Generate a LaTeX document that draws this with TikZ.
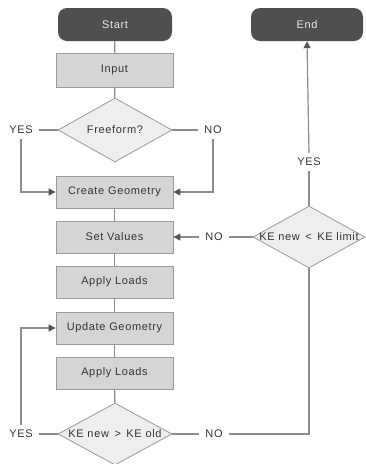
\documentclass[tikz,border=0pt]{standalone}
\usepackage{fontspec}
\setmainfont{Liberation Sans}[LetterSpace=6]
\usetikzlibrary{shapes.geometric,arrows.meta}
\definecolor{darkbox}{HTML}{4F4F4F}
\definecolor{boxfill}{HTML}{D5D5D5}
\definecolor{boxline}{HTML}{9A9A9A}
\definecolor{diafill}{HTML}{EEEEEE}
\definecolor{wire}{HTML}{8C8C8C}
\definecolor{tipcol}{HTML}{555555}
\definecolor{txt}{HTML}{333333}
\begin{document}
\begin{tikzpicture}[x=1pt,y=-1pt,
  font=\fontsize{11}{13}\selectfont,
  term/.style={rectangle,rounded corners=9pt,fill=darkbox,text=white!92!black,minimum width=114pt,minimum height=33pt,inner sep=0pt},
  procbox/.style={rectangle,fill=boxfill,draw=boxline,line width=0.8pt,text=txt,minimum width=117pt,minimum height=32pt,inner sep=0pt},
  decide/.style={diamond,fill=diafill,draw=boxline,line width=0.8pt,text=txt,minimum width=114pt,minimum height=63pt,inner sep=0pt},
  lbl/.style={text=txt,inner xsep=6pt,inner ysep=5pt},
  wireline/.style={draw=wire,line width=1.2pt},
  arr/.style={wireline,-{Triangle[length=7pt,width=7pt,color=tipcol]}}
]
\useasboundingbox (0,0) rectangle (366,464);
\node[term] (start) at (115,24.5) {Start};
\node[term,minimum width=112pt] (end) at (307,24.5) {End};
\node[procbox,minimum height=34pt] (input) at (114.5,70) {Input};
\node[decide,minimum height=64pt] (free) at (115,130) {};
\node[text=txt] (freet) at (free.center) {Freeform?};
\node[procbox] (create) at (114.5,192) {Create Geometry};
\node[procbox] (setv) at (114.5,237) {Set Values};
\node[procbox] (apply1) at (114.5,282) {Apply Loads};
\node[procbox] (update) at (114.5,328) {Update Geometry};
\node[procbox] (apply2) at (114.5,373) {Apply Loads};
\node[decide,minimum height=62pt] (ke2) at (115,434) {};
\node[text=txt,inner sep=0pt] (ke2t) at (ke2.center) {KE new \,>\, KE old};
\node[decide,minimum width=112pt,minimum height=62pt] (ke1) at (309,237) {};
\node[text=txt,inner sep=0pt] (ke1t) at (ke1.center) {KE new \,<\, KE limit};

\node[lbl] (yes1) at (21,130) {YES};
\node[lbl] (no1) at (213,130) {NO};
\node[lbl] (no2) at (214,237) {NO};
\node[lbl] (yes2) at (309,162) {YES};
\node[lbl] (yes3) at (21,434) {YES};
\node[lbl] (no3) at (214,434) {NO};

\draw[wireline] (start) -- (input);
\draw[wireline] (input) -- (free);
\draw[wireline] (free.west) -- (yes1.east);
\draw[wireline] (free.east) -- (no1.west);
\draw[arr] (yes1.south) |- (create.west);
\draw[arr] (no1.south) |- (create.east);
\draw[wireline] (create) -- (setv);
\draw[wireline] (setv) -- (apply1);
\draw[wireline] (apply1) -- (update);
\draw[wireline] (update) -- (apply2);
\draw[wireline] (apply2) -- (ke2);
\draw[wireline] (ke2.west) -- (yes3.east);
\draw[arr] (yes3.north) |- (update.west);
\draw[wireline] (ke2.east) -- (no3.west);
\draw[wireline] (no3.east) -| (ke1.south);
\draw[wireline] (ke1.west) -- (no2.east);
\draw[arr] (no2.west) -- (setv.east);
\draw[wireline] (ke1.north) -- (yes2.south);
\draw[arr] (yes2.north) -- (end.south);
\end{tikzpicture}
\end{document}
